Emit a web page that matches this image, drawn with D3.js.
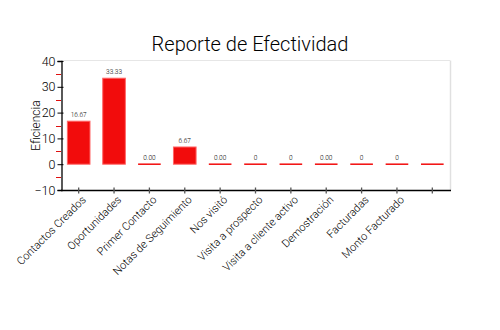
<!DOCTYPE html>
<html>
<head>
<meta charset="utf-8">
<script src="https://cdn.jsdelivr.net/npm/d3@7"></script>
<style>
  html, body { margin: 0; padding: 0; background: #fff; }
  svg { display: block; }
  text { font-family: "Roboto", "DejaVu Sans", sans-serif; font-weight: 300; }
</style>
</head>
<body>
<svg id="chart" width="500" height="330"></svg>
<script>
// Effectiveness report data
const categories = [
  "Contactos Creados", "Oportunidades", "Primer Contacto", "Notas de Seguimiento",
  "Nos visitó", "Visita a prospecto", "Visita a cliente activo", "Demostración",
  "Facturadas", "Monto Facturado", ""
];
const values = [16.67, 33.33, 0, 6.67, 0, 0, 0, 0, 0, 0, 0];
const valueLabels = ["16.67", "33.33", "0.00", "6.67", "0.00", "0", "0", "0.00", "0", "0", ""];
const yTicks = [-10, 0, 10, 20, 30, 40];
const yMinorTicks = [-5, 5, 15, 25, 35];

const title = "Reporte de Efectividad";
const yTitle = "Eficiencia";

const svg = d3.select("#chart");
const plot = { left: 61, right: 450, top: 61, bottom: 190 };

const x = d3.scaleBand()
  .domain(d3.range(categories.length))
  .range([plot.left, plot.right])
  .paddingInner(0.36)
  .paddingOuter(0.18);

const y = d3.scaleLinear().domain([-10, 40]).range([plot.bottom, plot.top]);

// Frame: light top and right borders
svg.append("line")
  .attr("x1", plot.left).attr("x2", plot.right)
  .attr("y1", plot.top - 0.5).attr("y2", plot.top - 0.5)
  .attr("stroke", "#e6e6e6").attr("stroke-width", 1);
svg.append("line")
  .attr("x1", plot.right + 0.5).attr("x2", plot.right + 0.5)
  .attr("y1", plot.top - 0.5).attr("y2", plot.bottom)
  .attr("stroke", "#e0e0e0").attr("stroke-width", 1.5);

// Title
svg.append("text")
  .attr("x", 250).attr("y", 51)
  .attr("text-anchor", "middle")
  .attr("font-size", 20)
  .attr("font-weight", 400)
  .attr("fill", "#000")
  .text(title);

// Y axis
const yAxis = svg.append("g")
  .attr("transform", `translate(${plot.left + 0.5},0)`)
  .call(d3.axisLeft(y).tickValues(yTicks).tickSize(4).tickPadding(2).tickFormat(d3.format("d")));
yAxis.select(".domain").attr("stroke", "#000").attr("stroke-width", 1.3);
yAxis.selectAll(".tick line").attr("x2", 2).attr("x1", -4).attr("stroke", "#000");
yAxis.selectAll(".tick text").attr("font-size", 12.5).attr("fill", "#000");

// Minor ticks in red
svg.append("g").selectAll("line")
  .data(yMinorTicks)
  .join("line")
  .attr("x1", plot.left - 5).attr("x2", plot.left)
  .attr("y1", d => Math.round(y(d)) + 0.5).attr("y2", d => Math.round(y(d)) + 0.5)
  .attr("stroke", "#e01010").attr("stroke-width", 1);

// Y title
svg.append("text")
  .attr("transform", `translate(40,${(plot.top + plot.bottom) / 2}) rotate(-90)`)
  .attr("text-anchor", "middle")
  .attr("font-size", 12)
  .attr("fill", "#000")
  .text(yTitle);

// Bars
const zero = y(0);
svg.append("g").selectAll("rect")
  .data(values)
  .join("rect")
  .attr("x", (d, i) => x(i))
  .attr("width", x.bandwidth())
  .attr("y", d => d > 0 ? y(d) : zero - 0.75)
  .attr("height", d => d > 0 ? zero - y(d) : 1.5)
  .attr("fill", "#f20c0c")
  .attr("stroke", d => d > 0 ? "#f66" : "none")
  .attr("stroke-width", 1);

// Value labels
svg.append("g").selectAll("text")
  .data(values)
  .join("text")
  .attr("x", (d, i) => x(i) + x.bandwidth() / 2)
  .attr("y", d => y(d) - 4)
  .attr("text-anchor", "middle")
  .attr("font-size", 6.5)
  .attr("font-weight", 400)
  .attr("fill", "#000")
  .text((d, i) => valueLabels[i]);

// X axis
const xAxis = svg.append("g")
  .attr("transform", `translate(0,${plot.bottom + 0.5})`)
  .call(d3.axisBottom(x).tickSize(4).tickFormat(i => categories[i]));
xAxis.select(".domain").attr("stroke", "#000").attr("stroke-width", 1.3)
  .attr("d", `M${plot.left},0H${plot.right + 1}`);
xAxis.selectAll(".tick line").attr("y1", -3).attr("y2", 3).attr("stroke", "#555").attr("stroke-width", 1.3);
xAxis.selectAll(".tick text")
  .attr("font-size", 11)
  .attr("fill", "#000")
  .attr("text-anchor", "end")
  .attr("dy", 0)
  .attr("transform", "translate(3,5) rotate(-45)");
</script>
</body>
</html>
